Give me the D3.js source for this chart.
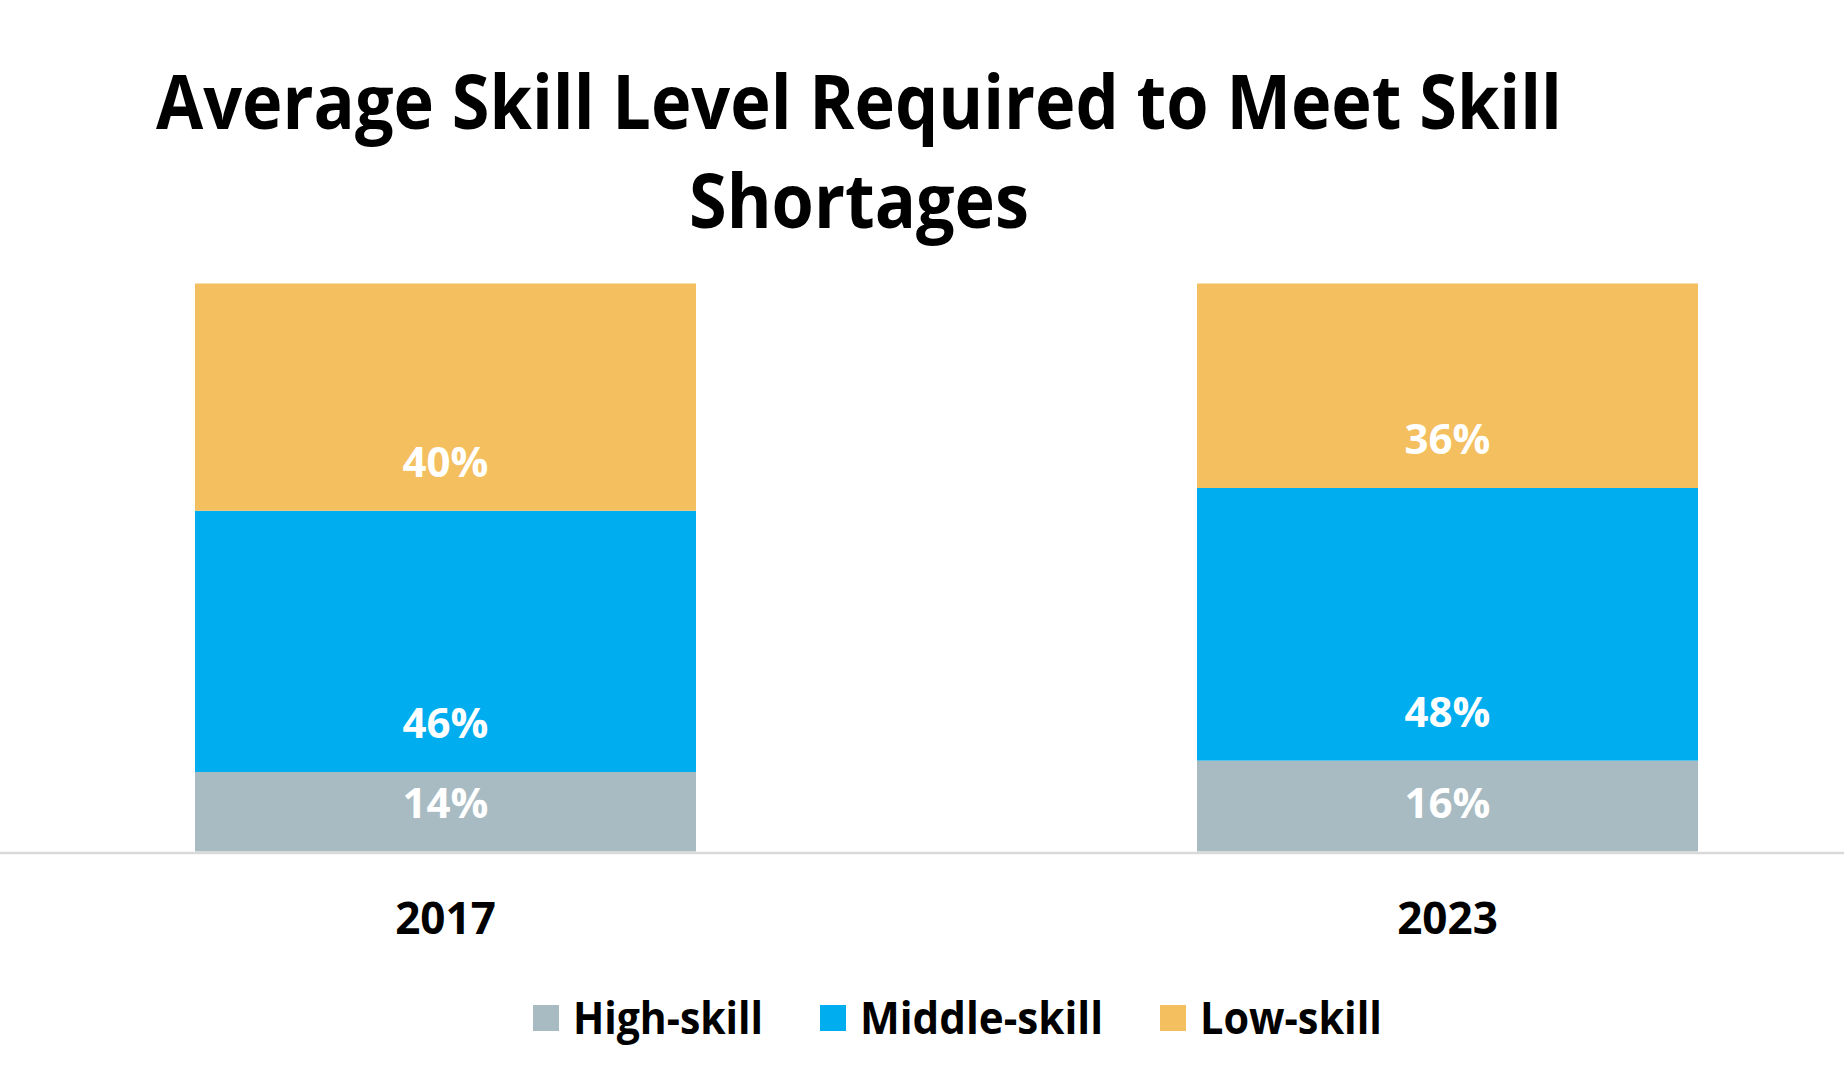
<!DOCTYPE html>
<html><head><meta charset="utf-8">
<script src="https://cdn.jsdelivr.net/npm/d3@7"></script>
<style>html,body{margin:0;padding:0;background:#fff;}svg{display:block;}</style>
</head><body>
<script>
const years = ["2017", "2023"];
const seriesNames = ["High-skill", "Middle-skill", "Low-skill"];
const highSkill = [14, 16];
const middleSkill = [46, 48];
const lowSkill = [40, 36];
const seriesColors = ["#A8BBC2", "#00ADEE", "#F4BF5F"];
const titleLines = ["Average Skill Level Required to Meet Skill", "Shortages"];

const W = 1844, H = 1079;
const FONT = "'Open Sans', 'Liberation Sans', sans-serif";
const svg = d3.select("body").append("svg").attr("width", W).attr("height", H);

const rows = years.map((y, i) => ({year: y, "High-skill": highSkill[i], "Middle-skill": middleSkill[i], "Low-skill": lowSkill[i]}));
const stack = d3.stack().keys(seriesNames)(rows);

const x = d3.scaleBand().domain(years).range([195, 1698]).paddingInner(0.5).paddingOuter(0);
const y = d3.scaleLinear().domain([0, 100]).range([851.5, 283.5]);
const color = d3.scaleOrdinal().domain(seriesNames).range(seriesColors);

// Title
svg.append("text").attr("x", 859).attr("y", 129).attr("text-anchor", "middle")
  .attr("font-family", FONT).attr("font-weight", 700).attr("font-size", 76)
  .attr("textLength", 1406).attr("lengthAdjust", "spacingAndGlyphs")
  .attr("fill", "#000").text(titleLines[0]);
svg.append("text").attr("x", 859).attr("y", 228).attr("text-anchor", "middle")
  .attr("font-family", FONT).attr("font-weight", 700).attr("font-size", 76)
  .attr("textLength", 340).attr("lengthAdjust", "spacingAndGlyphs")
  .attr("fill", "#000").text(titleLines[1]);

// Bars
const groups = svg.append("g").selectAll("g").data(stack).join("g").attr("fill", d => color(d.key));
groups.selectAll("rect").data(d => d.map(v => ({v, key: d.key}))).join("rect")
  .attr("x", d => x(d.v.data.year))
  .attr("width", x.bandwidth())
  .attr("y", d => y(d.v[1]))
  .attr("height", d => y(d.v[0]) - y(d.v[1]));

// Baseline axis line
svg.append("line").attr("x1", 0).attr("x2", W).attr("y1", y(0) + 1.5).attr("y2", y(0) + 1.5)
  .attr("stroke", "#D9D9D9").attr("stroke-width", 2.5);

// Data labels
const labelG = svg.append("g");
stack.forEach(s => {
  s.forEach(v => {
    const val = v[1] - v[0];
    labelG.append("text")
      .attr("x", x(v.data.year) + x.bandwidth() / 2)
      .attr("y", y(v[0]) - 49)
      .attr("dy", "0.36em")
      .attr("text-anchor", "middle")
      .attr("font-family", FONT).attr("font-weight", 700).attr("font-size", 42)
      .attr("fill", "#fff")
      .text(val + "%");
  });
});

// X axis labels
const xAxis = d3.axisBottom(x).tickSize(0).tickPadding(0);
const ax = svg.append("g").attr("transform", `translate(0, ${y(0)})`).call(xAxis);
ax.select(".domain").remove();
ax.selectAll("text").attr("font-family", FONT).attr("font-weight", 700).attr("font-size", 44)
  .attr("fill", "#000").attr("dy", 0).attr("y", 82);

// Legend
const legendItems = [
  {name: seriesNames[0], sx: 533, tx: 573, tw: 190},
  {name: seriesNames[1], sx: 820, tx: 860, tw: 243},
  {name: seriesNames[2], sx: 1160, tx: 1200, tw: 182}
];
const lg = svg.append("g");
legendItems.forEach(it => {
  lg.append("rect").attr("x", it.sx).attr("y", 1005).attr("width", 26).attr("height", 26).attr("fill", color(it.name));
  lg.append("text").attr("x", it.tx).attr("y", 1034)
    .attr("font-family", FONT).attr("font-weight", 700).attr("font-size", 44)
    .attr("textLength", it.tw).attr("lengthAdjust", "spacingAndGlyphs")
    .attr("fill", "#000").text(it.name);
});
</script>
</body></html>
